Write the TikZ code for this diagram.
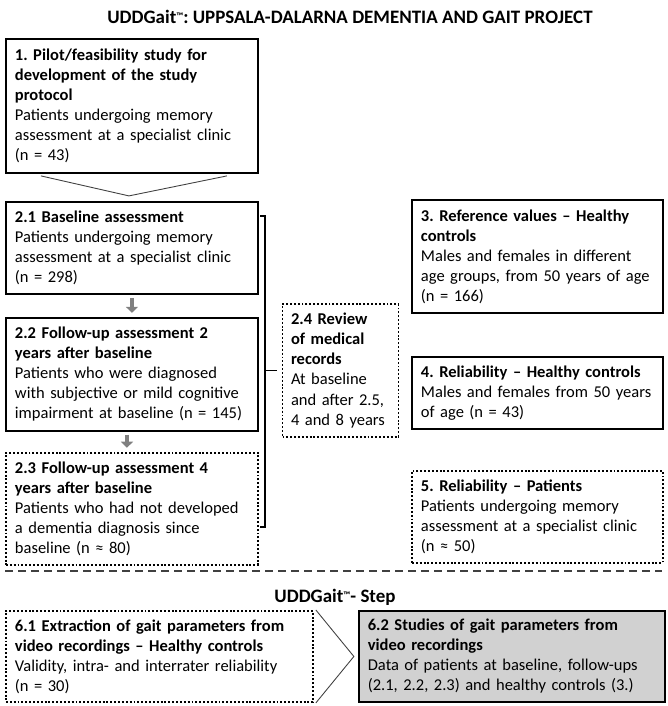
\documentclass[tikz,border=0pt]{standalone}
\usepackage{fontspec}
\setmainfont{Carlito}
\usetikzlibrary{positioning,calc,arrows.meta}
\newcommand{\tmark}{\raisebox{0.45ex}{\fontsize{5.5}{5.5}\selectfont ™}}

\begin{document}
\frenchspacing
\begin{tikzpicture}[
		x=0.02cm, y=-0.02cm,
		box/.style={draw, line width=1.1pt, align=left, inner xsep=0.18cm, inner ysep=0pt, text width=#1, font=\fontsize{9.4}{11.4}\selectfont},
		dotbox/.style={box=#1, dash pattern=on 1.1pt off 1.1pt},
		shadedbox/.style={box=#1, fill=black!18},
		title/.style={font=\bfseries\fontsize{10.8}{12.7}\selectfont, inner sep=1pt},
		grayarrow/.style={draw=black!50, line width=0.09cm, -{Triangle[width=0.24cm,length=0.12cm]}, shorten <=0.06cm, shorten >=0.08cm},
		chev/.style={draw=black!75, line width=0.5pt},
		bracket/.style={draw, line width=0.8pt},
		sep/.style={draw=black!75, line width=1.1pt, dash pattern=on 4.6pt off 2.8pt}
		]
		\useasboundingbox (0,0) rectangle (667,706);
		\node[title] (head) at (350,17) {UDDGait\tmark: UPPSALA-DALARNA DEMENTIA AND GAIT PROJECT};
		
		% left column
		\node[box=4.68cm, minimum height=2.68cm, anchor=north west] (b1) at (5,38) {\textbf{1. Pilot/feasibility study for\\development of the study\\protocol}\\Patients undergoing memory\\assessment at a specialist clinic\\(n = 43)};
		\node[box=4.68cm, minimum height=1.84cm, below=0.54cm of b1] (b21) {\textbf{2.1 Baseline assessment}\\Patients undergoing memory\\assessment at a specialist clinic\\(n = 298)};
		\node[box=4.68cm, minimum height=2.26cm, below=0.44cm of b21] (b22) {\textbf{2.2 Follow-up assessment 2\\years after baseline}\\Patients who were diagnosed\\with subjective or mild cognitive\\impairment at baseline (n = 145)};
		\node[dotbox=4.68cm, minimum height=2.24cm, below=0.4cm of b22] (b23) {\textbf{2.3 Follow-up assessment 4\\years after baseline}\\Patients who had not developed\\a dementia diagnosis since\\baseline (n ≈ 80)};
		\node[dotbox=1.98cm, inner xsep=0.17cm, minimum height=2.66cm] (b24) at (340.5,370.5) {\textbf{2.4 Review\\of medical\\records}\\At baseline\\and after 2.5,\\4 and 8 years};
		
		% right column
		\node[box=4.66cm, minimum height=2.26cm, anchor=north west] (b3) at (411,199) {\textbf{3. Reference values -- Healthy\\controls}\\Males and females in different\\age groups, from 50 years of age\\(n = 166)};
		\node[box=4.66cm, minimum height=1.44cm, below=0.84cm of b3] (b4) {\textbf{4. Reliability -- Healthy controls}\\Males and females from 50 years\\of age (n = 43)};
		\node[dotbox=4.66cm, minimum height=1.84cm, below=0.8cm of b4] (b5) {\textbf{5. Reliability -- Patients}\\Patients undergoing memory\\assessment at a specialist clinic\\(n ≈ 50)};
		
		% step part
		\node[title] (steps) at (335,597) {UDDGait\tmark- Step};
		\node[dotbox=5.78cm, minimum height=1.82cm, anchor=north west] (b61) at (5,610) {\textbf{6.1 Extraction of gait parameters from\\video recordings -- Healthy controls}\\Validity, intra- and interrater reliability\\(n = 30)};
		\node[shadedbox=5.76cm, minimum height=1.82cm, right=0.88cm of b61] (b62) {\textbf{6.2 Studies of gait parameters from\\video recordings}\\Data of patients at baseline, follow-ups\\(2.1, 2.2, 2.3) and healthy controls (3.)};
		
		% arrows between the studies
		\draw[chev] ([xshift=-1.82cm,yshift=-0.04cm]b1.south) -- ([xshift=-0.06cm,yshift=0.1cm]b21.north) -- ([xshift=1.9cm,yshift=-0.04cm]b1.south);
		\draw[grayarrow] (b21.south) -- (b22.north);
		\draw[grayarrow] ([xshift=-0.1cm]b22.south) -- ([xshift=-0.1cm]b23.north);
		\draw[chev] ([xshift=0.04cm]b61.north east) -- ([xshift=-0.08cm]b62.west) -- ([xshift=0.04cm]b61.south east);
		
		% bracket to the record review
		\coordinate (brtop) at (265,216);
		\coordinate (brbot) at (265,527);
		\draw[bracket] ([xshift=-0.1cm]brtop) -- (brtop) -- (brbot) -- ([xshift=-0.1cm]brbot);
		\draw[bracket, shorten >=0.1cm] (brtop |- b24.west) -- (b24.west);
		
		% separator
		\coordinate (sepL) at (5,571);
		\coordinate (sepR) at (662,571);
		\draw[sep] (sepL) -- (sepR);
	\end{tikzpicture}
\end{document}
